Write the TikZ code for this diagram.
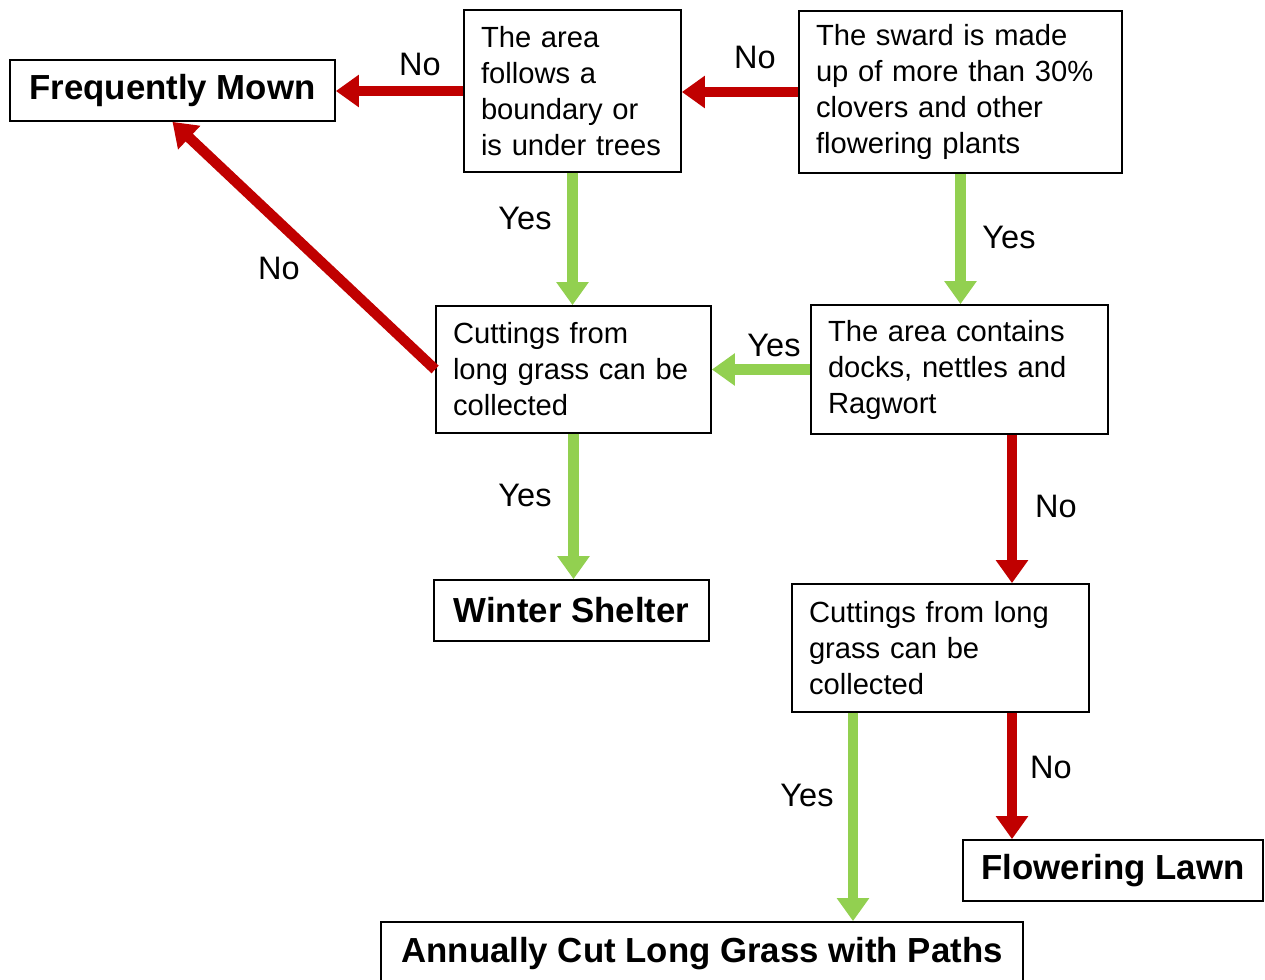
\documentclass[tikz,border=0pt]{standalone}
\usepackage{fontspec}
\setmainfont{Liberation Sans}
\usetikzlibrary{arrows.meta}
\definecolor{noRed}{HTML}{C00000}
\definecolor{yesGreen}{HTML}{92D050}
\tikzset{
	box/.style = {draw, line width=1pt, inner xsep=0.34cm, inner ysep=0pt, align=left, font=\fontsize{16.6}{20.5}\selectfont},
	endbox/.style = {draw, line width=1pt, inner sep=0pt, align=center, font=\fontsize{19.8}{23}\selectfont\bfseries},
	lbl/.style = {inner sep=0pt, font=\fontsize{18.5}{22}\selectfont},
	yesarrow/.style = {yesGreen, line width=0.21cm, -{Triangle[length=0.46cm,width=0.62cm]}},
	noarrow/.style = {noRed, line width=0.21cm, -{Triangle[length=0.46cm,width=0.62cm]}}
}

\begin{document}
\begin{tikzpicture}
	\useasboundingbox (0,0) rectangle (25.3,-19.6);
	% end results
	\node[endbox, minimum width=6.5cm, minimum height=1.22cm] (mown) at (3.45,-1.81) {Frequently Mown};
	\node[endbox, minimum width=5.5cm, minimum height=1.22cm] (winter) at (11.43,-12.21) {Winter Shelter};
	\node[endbox, minimum width=6cm, minimum height=1.22cm] (lawn) at (22.26,-17.41) {Flowering Lawn};
	\node[endbox, minimum width=12.84cm, minimum height=1.26cm] (annual) at (14.04,-19.07) {Annually Cut Long Grass with Paths};
	% questions
	\node[box, text width=3.66cm, minimum height=3.24cm] (bound) at (11.45,-1.82) {The area\\follows a\\boundary or\\is under trees};
	\node[box, text width=5.78cm, minimum height=3.24cm] (sward) at (19.21,-1.84) {The sward is made\\up of more than 30\%\\clovers and other\\flowering plants};
	\node[box, text width=4.82cm, minimum height=2.54cm] (cut1) at (11.47,-7.39) {Cuttings from\\long grass can be\\collected};
	\node[box, text width=5.26cm, minimum height=2.58cm] (docks) at (19.19,-7.39) {The area contains\\docks, nettles and\\Ragwort};
	\node[box, text width=5.26cm, minimum height=2.56cm] (cut2) at (18.81,-12.96) {Cuttings from long\\grass can be\\collected};
	% connectors
	\draw[noarrow] (sward.west) -- (sward.west -| bound.east);
	\draw[noarrow] (bound.west) -- (bound.west -| mown.east);
	\draw[yesarrow] (bound.south) -- (bound.south |- cut1.north);
	\draw[yesarrow] (sward.south) -- (sward.south |- docks.north);
	\draw[yesarrow] (docks.west) -- (docks.west -| cut1.east);
	\draw[noarrow] (cut1.west) -- (mown.south);
	\draw[yesarrow] (cut1.south) -- (cut1.south |- winter.north);
	\draw[noarrow] ([xshift=1.05cm]docks.south) -- ([xshift=1.05cm]docks.south |- cut2.north);
	\draw[noarrow] ([xshift=1.43cm]cut2.south) -- ([xshift=1.43cm]cut2.south |- lawn.north);
	\draw[yesarrow] ([xshift=-1.75cm]cut2.south) -- ([xshift=-1.75cm]cut2.south |- annual.north);
	% labels
	\node[lbl] (l1) at (8.4,-1.28) {No};
	\node[lbl] (l2) at (15.1,-1.14) {No};
	\node[lbl] (l3) at (10.5,-4.36) {Yes};
	\node[lbl] (l4) at (20.18,-4.74) {Yes};
	\node[lbl] (l5) at (15.48,-6.9) {Yes};
	\node[lbl] (l6) at (5.58,-5.36) {No};
	\node[lbl] (l7) at (10.5,-9.9) {Yes};
	\node[lbl] (l8) at (21.12,-10.12) {No};
	\node[lbl] (l9) at (21.02,-15.34) {No};
	\node[lbl] (l10) at (16.14,-15.9) {Yes};
\end{tikzpicture}
\end{document}
